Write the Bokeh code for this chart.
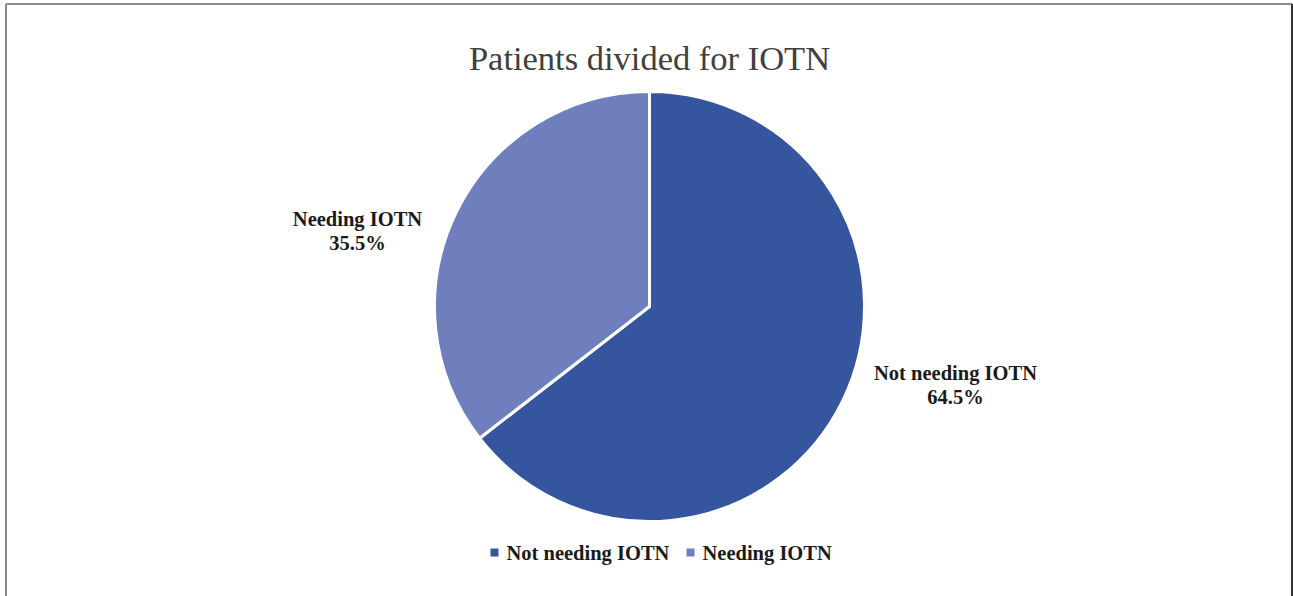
import math
from bokeh.plotting import figure
from bokeh.models import Range1d, ColumnDataSource
from bokeh.core.properties import value
from bokeh.embed import file_html
from bokeh.resources import INLINE

# ---- data ----
chart_title = "Patients divided for IOTN"
categories = ["Not needing IOTN", "Needing IOTN"]
percentages = [64.5, 35.5]
slice_colors = ["#36559f", "#6f7fbe"]

W, H = 1293, 596
SERIF = value("Liberation Serif")

p = figure(width=W, height=H, x_range=Range1d(0, W), y_range=Range1d(0, H),
           x_axis_type=None, y_axis_type=None, toolbar_location=None,
           output_backend="svg", min_border=0, background_fill_color="white",
           border_fill_color="white")
p.outline_line_color = None
p.grid.visible = False

def Y(py):
    return H - py

# outer frame
p.segment(x0=[5.5, 5.5], y0=[Y(3.5), Y(3.5)], x1=[5.5, 1291.5], y1=[Y(597), Y(3.5)],
          line_color="#8c8c8c", line_width=2)
p.segment(x0=[1291.5], y0=[Y(3.5)], x1=[1291.5], y1=[Y(597)], line_color="#333333", line_width=2)

# pie
cx, cy, r = 649, Y(306), 215
total = sum(percentages)
starts, ends = [], []
cum = 0.0
for v in percentages:
    starts.append(math.pi / 2 - cum / total * 2 * math.pi)
    cum += v
    ends.append(math.pi / 2 - cum / total * 2 * math.pi)
src = ColumnDataSource(dict(start=starts, end=ends, color=slice_colors))
p.wedge(x=cx, y=cy, radius=r, start_angle="start", end_angle="end", direction="clock",
        fill_color="color", line_color="white", line_width=3, source=src)

# title
p.text(x=[649], y=[Y(57)], text=[chart_title], text_font=SERIF, text_font_size="34.5px",
       text_color="#404040", text_align="center", text_baseline="middle")

# slice labels
label_pos = [(955, 372), (357, 218)]
for cat, pct, (lx, ly) in zip(categories, percentages, label_pos):
    p.text(x=[lx, lx], y=[Y(ly), Y(ly + 24)], text=[cat, f"{pct:.1f}%"], text_font=SERIF,
           text_font_style="bold", text_font_size="20.5px", text_color="#1a1a1a",
           text_align="center", text_baseline="middle")

# legend
leg_x = [494, 690]
for cat, col, lx in zip(categories, slice_colors, leg_x):
    p.scatter(x=[lx], y=[Y(552)], marker="square", size=8, fill_color=col, line_color=None)
    p.text(x=[lx + 12], y=[Y(552)], text=[cat], text_font=SERIF, text_font_style="bold",
           text_font_size="20.5px", text_color="#1a1a1a", text_align="left", text_baseline="middle")

open("out.html", "w").write(file_html(p, INLINE))
